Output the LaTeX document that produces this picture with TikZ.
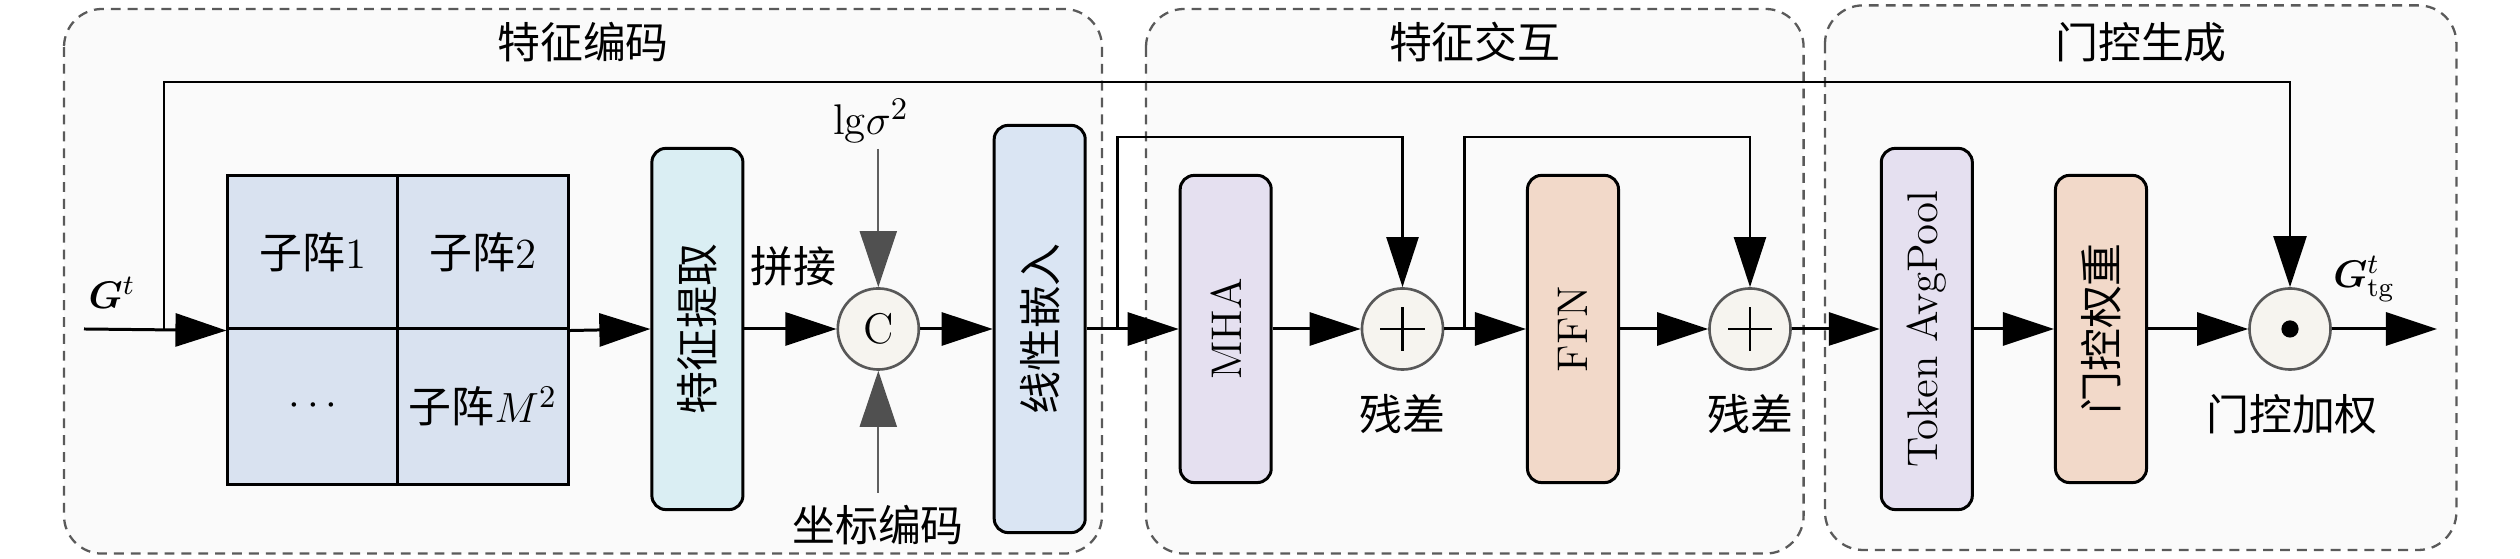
\documentclass[tikz,border=0pt]{standalone}
\usepackage{fontspec}
\usepackage{bm}
\newfontfamily\cjk{Noto Sans CJK SC}
\usetikzlibrary{arrows.meta,fit}
\definecolor{grpfill}{HTML}{FAFAFA}
\definecolor{grpborder}{HTML}{5A5A5A}
\definecolor{gridfill}{HTML}{D9E2F0}
\definecolor{fefill}{HTML}{DAEEF3}
\definecolor{linfill}{HTML}{DAE5F3}
\definecolor{mhafill}{HTML}{E5E0F0}
\definecolor{ffnfill}{HTML}{F2D9C9}
\definecolor{circfill}{HTML}{F6F4EF}
\definecolor{circborder}{HTML}{585858}
\definecolor{grayline}{HTML}{5F5F5F}
\definecolor{grayhead}{HTML}{505050}
\begin{document}
\begin{tikzpicture}[x=0.01cm,y=-0.01cm,
  font=\fontsize{12.2}{14.6}\selectfont,
  grp/.style={draw=grpborder, dash pattern=on 2.8pt off 2pt, line width=0.65pt, fill=grpfill, rounded corners=0.38cm},
  blk/.style={draw=black, line width=0.85pt, rounded corners=0.14cm, minimum width=0.91cm, inner sep=0pt},
  cell/.style={draw=black, line width=0.85pt, fill=gridfill, minimum width=1.70cm, inner sep=0pt},
  opc/.style={circle, draw=circborder, line width=0.75pt, fill=circfill, minimum size=0.81cm, inner sep=0pt},
  arr/.style={-{Triangle[length=0.51cm,width=0.33cm]}, line width=0.85pt},
  toparr/.style={-{Triangle[length=0.51cm,width=0.33cm]}, line width=0.7pt},
  skiparr/.style={-{Triangle[length=0.50cm,width=0.32cm]}, line width=0.65pt},
  grayarr/.style={draw=grayline, line width=0.6pt, -{Triangle[length=0.56cm,width=0.37cm,color=grayhead]}},
  lbl/.style={inner sep=0pt},
  mlbl/.style={inner sep=0pt, font=\fontsize{11}{13}\selectfont}
]
\useasboundingbox (0,0) rectangle (2520,559);

% groups (background panels)
\draw[grp] (64,9) rectangle (1102,553.6);
\draw[grp] (1146,9) rectangle (1803.6,553.6);
\draw[grp] (1825,5.4) rectangle (2456.4,550);
\node[lbl] (t1) at (583,42) {\cjk 特征编码};
\node[lbl] (t2) at (1474.8,42) {\cjk 特征交互};
\node[lbl] (t3) at (2141,42) {\cjk 门控生成};

% grid
\node[cell, minimum height=1.53cm] (c11) at (313,252.5) {{\cjk 子阵}1};
\node[cell, minimum height=1.53cm] (c12) at (483,252.5) {{\cjk 子阵}2};
\node[cell, minimum height=1.55cm] (c21) at (313,406.5) {$\cdots$};
\node[cell, minimum height=1.55cm] (c22) at (483,406.5) {{\cjk 子阵}$M^2$};

% blocks
\node[blk, fill=fefill, minimum height=3.61cm] (fe) at (697.4,329) {\rotatebox{90}{\cjk 特征提取}};
\node[blk, fill=linfill, minimum height=4.07cm] (lin) at (1039.7,329) {\rotatebox{90}{\cjk 线性嵌入}};
\node[blk, fill=mhafill, minimum height=3.07cm] (mha) at (1225.7,329) {\rotatebox{90}{MHA}};
\node[blk, fill=ffnfill, minimum height=3.07cm] (ffn) at (1573,329) {\rotatebox{90}{FFN}};
\node[blk, fill=mhafill, minimum height=3.61cm] (pool) at (1926.8,329) {\rotatebox{90}{Token AvgPool}};
\node[blk, fill=ffnfill, minimum height=3.07cm] (gw) at (2101,329) {\rotatebox{90}{\cjk 门控权重}};

% operators
\node[opc] (cc) at (878.3,329) {C};
\node[opc] (p1) at (1402.5,329) {};
\node[opc] (p2) at (1750,329) {};
\node[opc] (od) at (2290,329) {};
\foreach \n in {p1,p2}{
  \draw[line width=0.7pt] ([xshift=-0.22cm]\n.center) -- ([xshift=0.22cm]\n.center);
  \draw[line width=0.7pt] ([yshift=-0.22cm]\n.center) -- ([yshift=0.22cm]\n.center);
}
\fill (od.center) circle (0.086cm);

% labels
\node[mlbl] (gin) at (112,293) {$\bm{G}^{t}$};
\node[lbl] (pj) at (793,266) {\cjk 拼接};
\node[lbl] (lg) at (871,121) {$\mathrm{lg}\sigma^2$};
\node[lbl] (zb) at (878,525) {\cjk 坐标编码};
\node[lbl] (r1) at (1402.5,414) {\cjk 残差};
\node[lbl] (r2) at (1750,414) {\cjk 残差};
\node[lbl] (gj) at (2292,414) {\cjk 门控加权};
\node[mlbl] (gout) at (2364,279) {$\bm{G}_{\mathrm{tg}}^{t}$};

% coordinates
\coordinate (in) at (84,329);
\coordinate (s0) at (164,329);
\coordinate (t0) at (164,82);
\coordinate (s1) at (1117.5,329);
\coordinate (s1t) at (1117.5,137);
\coordinate (s2) at (1464.6,329);
\coordinate (s2t) at (1464.6,137);
\coordinate (lgS) at (878.3,149);
\coordinate (zbS) at (878.3,493);
\coordinate (out) at (2437,329);

% connectors
\draw[arr] (in) -- (c11.south west);
\draw[arr] (c12.south east) -- (fe.west);
\draw[arr] (fe.east) -- (cc.west);
\draw[arr] (cc.east) -- (lin.west);
\draw[arr] (lin.east) -- (mha.west);
\draw[arr] (mha.east) -- (p1.west);
\draw[arr] (p1.east) -- (ffn.west);
\draw[arr] (ffn.east) -- (p2.west);
\draw[arr] (p2.east) -- (pool.west);
\draw[arr] (pool.east) -- (gw.west);
\draw[arr] (gw.east) -- (od.west);
\draw[arr] (od.east) -- (out);
\draw[toparr] (s0) -- (t0) -| (od.north);
\draw[skiparr] (s1) -- (s1t) -| (p1.north);
\draw[skiparr] (s2) -- (s2t) -| (p2.north);
\draw[grayarr] (lgS) -- (cc.north);
\draw[grayarr] (zbS) -- (cc.south);
\end{tikzpicture}
\end{document}
